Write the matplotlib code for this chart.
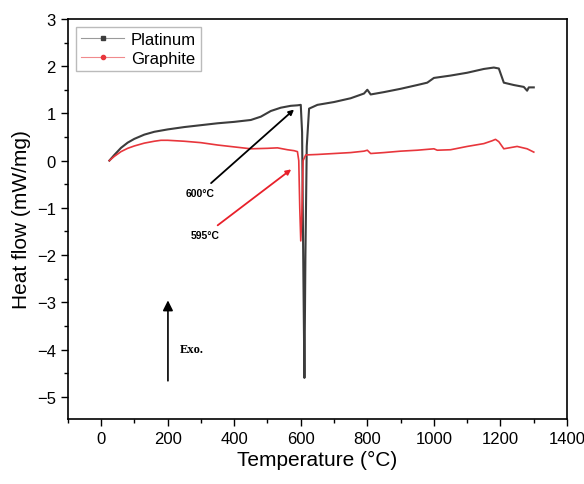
import matplotlib
matplotlib.use("Agg")
import matplotlib.pyplot as plt
from matplotlib.ticker import MultipleLocator
from matplotlib.lines import Line2D

plt.rcParams['font.family'] = ['Liberation Sans', 'DejaVu Sans']

# temperature (°C) / heat flow (mW/mg)
pt_T = [25, 40, 60, 80, 100, 130, 160, 200, 250, 300, 350, 400, 450, 480, 510, 540, 570, 590, 600,
        604, 608, 611, 614, 618, 625, 650, 700, 750, 790, 800, 810, 850, 900, 950,
        980, 1000, 1050, 1100, 1150, 1180, 1195, 1200, 1210, 1240, 1270, 1280, 1285, 1300]
pt_Q = [0.0, 0.12, 0.27, 0.38, 0.46, 0.55, 0.61, 0.66, 0.71, 0.75, 0.79, 0.82, 0.86, 0.93, 1.05, 1.12, 1.16, 1.17, 1.18,
        0.6, -2.5, -4.6, -2.0, 0.3, 1.1, 1.18, 1.24, 1.32, 1.42, 1.5, 1.4, 1.45, 1.52, 1.6,
        1.65, 1.75, 1.8, 1.86, 1.94, 1.97, 1.95, 1.85, 1.65, 1.6, 1.56, 1.48, 1.55, 1.55]

gr_T = [25, 40, 60, 80, 100, 130, 160, 180, 200, 250, 300, 350, 400, 450, 500, 530, 560, 580, 590,
        594, 597, 600, 603, 607, 615, 650, 700, 750, 790, 800, 810, 850, 900, 950,
        1000, 1010, 1050, 1100, 1150, 1175, 1185, 1195, 1210, 1250, 1280, 1300]
gr_Q = [0.0, 0.09, 0.19, 0.26, 0.31, 0.37, 0.41, 0.43, 0.43, 0.41, 0.38, 0.33, 0.29, 0.25, 0.26, 0.27, 0.23, 0.21, 0.19,
        0.0, -1.0, -1.7, -1.2, 0.0, 0.12, 0.13, 0.15, 0.17, 0.2, 0.22, 0.15, 0.17, 0.2, 0.22,
        0.25, 0.22, 0.23, 0.3, 0.36, 0.42, 0.45, 0.4, 0.25, 0.3, 0.25, 0.18]

fig = plt.figure(figsize=(5.84, 4.85), dpi=100)
ax = fig.add_axes([0.116, 0.134, 0.855, 0.825])

ax.plot(pt_T, pt_Q, color='#3c3c3c', lw=1.5, label='Platinum')
ax.plot(gr_T, gr_Q, color='#e8363c', lw=1.2, label='Graphite')

ax.set_xlim(-100, 1400)
ax.set_ylim(-5.47, 3)
ax.xaxis.set_major_locator(MultipleLocator(200))
ax.xaxis.set_minor_locator(MultipleLocator(100))
ax.yaxis.set_major_locator(MultipleLocator(1))
ax.yaxis.set_minor_locator(MultipleLocator(0.5))
ax.tick_params(which='both', direction='out', labelsize=12, width=1)
ax.tick_params(which='major', length=5)
ax.tick_params(which='minor', length=3)
for s in ax.spines.values():
    s.set_linewidth(1.2)

ax.set_xlabel('Temperature (°C)', fontsize=15, labelpad=3)
ax.set_ylabel('Heat flow (mW/mg)', fontsize=15)

# legend with small markers on the lines
h = [Line2D([], [], color='#9a9a9a', lw=0.8, marker='s', markersize=3,
            markerfacecolor='#3c3c3c', markeredgecolor='#3c3c3c'),
     Line2D([], [], color='#f08a8d', lw=0.8, marker='o', markersize=3,
            markerfacecolor='#e8363c', markeredgecolor='#e8363c')]
ax.legend(h, ['Platinum', 'Graphite'], loc='upper left', fontsize=12,
          fancybox=False, edgecolor='#aaaaaa', handlelength=2.6,
          borderpad=0.3, labelspacing=0.2, handletextpad=0.4,
          bbox_to_anchor=(0.0, 1.0))

ax.annotate('600°C', xy=(586, 1.12), xytext=(298, -0.68),
            fontsize=7.5, fontweight='bold', ha='center', va='center',
            fontfamily='Liberation Sans',
            arrowprops=dict(arrowstyle='-|>', color='black', lw=1.3))
ax.annotate('595°C', xy=(578, -0.15), xytext=(313, -1.57),
            fontsize=7.5, fontweight='bold', ha='center', va='center',
            fontfamily='Liberation Sans',
            arrowprops=dict(arrowstyle='-|>', color='#e8202a', lw=1.3))

ax.annotate('', xy=(201, -2.9), xytext=(201, -4.72),
            arrowprops=dict(arrowstyle='-|>', color='black', lw=1.2,
                            mutation_scale=15))
ax.text(238, -3.98, 'Exo.', fontsize=9, fontweight='bold',
        fontfamily='Liberation Serif', va='center')

fig.savefig('out.png', dpi=100)
